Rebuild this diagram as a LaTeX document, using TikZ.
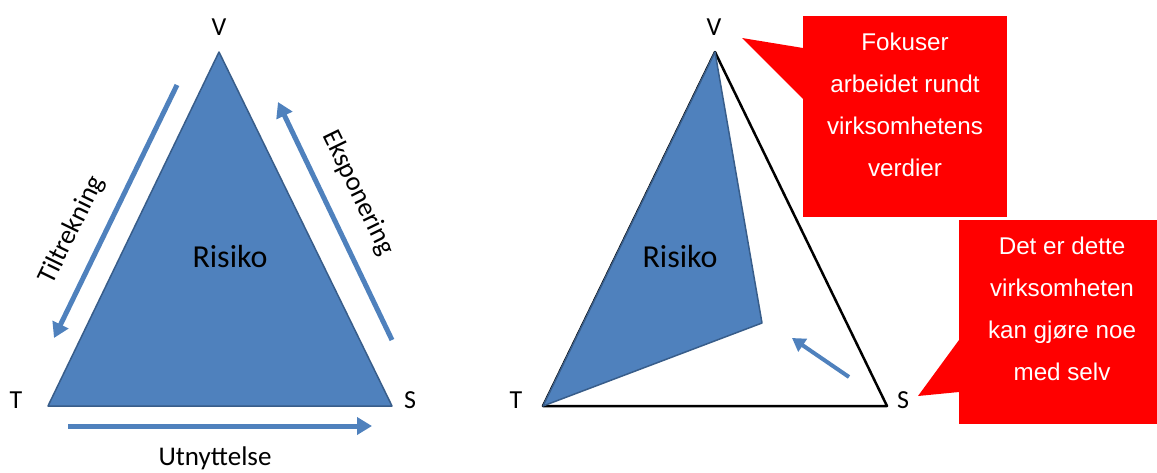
\documentclass[tikz,border=0pt]{standalone}
\usepackage{fontspec}
\setmainfont{Carlito}
\newfontfamily\boblefont{Liberation Sans}
\usepackage{xcolor}
\usetikzlibrary{calc, arrows.meta, positioning}
\definecolor{risikoblaa}{HTML}{4F81BD}
\definecolor{kantblaa}{HTML}{385D8A}
\definecolor{boblerod}{HTML}{FF0000}

\begin{document}
\begin{tikzpicture}[x=1pt, y=-1pt,
    pil/.style={draw=risikoblaa, line width=5pt, -{Triangle[length=15pt, width=17pt]}},
    hjorne/.style={font=\fontsize{26}{30}\selectfont},
    sidetekst/.style={font=\fontsize{27}{30}\selectfont},
    risiko/.style={fill=risikoblaa, draw=kantblaa, line width=1.5pt, line join=round},
    boble/.style={fill=boblerod, inner sep=0pt, outer sep=0pt},
    bobletekst/.style={text=white, align=center, font=\boblefont\fontsize{24.2}{42}\selectfont}]
    \useasboundingbox (0,0) rectangle (1157,472);

    % 1. Venstre trekant
    \coordinate (V1) at (219,52);
    \coordinate (T1) at (48,406);
    \coordinate (S1) at (392,406);
    \draw[risiko] (V1) -- (T1) -- (S1) -- cycle;
    \node[font=\fontsize{32}{36}\selectfont] (risiko1) at (230,257) {Risiko};
    \node[hjorne] (lV1) at (219,27) {V};
    \node[hjorne] (lT1) at (16,400) {T};
    \node[hjorne] (lS1) at (410,400) {S};

    % 2. Piler langs sidene
    \coordinate (tA) at (177,85);
    \coordinate (tB) at (54,338);
    \coordinate (eA) at (392,340);
    \coordinate (eB) at (278,102);
    \coordinate (uA) at (68,426);
    \coordinate (uB) at (372,426);
    \draw[pil] (tA) -- (tB);
    \draw[pil] (eA) -- (eB);
    \draw[pil] (uA) -- (uB);
    \node[sidetekst, rotate=64] (tiltrekning) at (72,230) {Tiltrekning};
    \node[sidetekst, rotate=-64] (eksponering) at (358,193) {Eksponering};
    \node[sidetekst] (utnyttelse) at (215,458) {Utnyttelse};

    % 3. Høyre trekant
    \coordinate (V2) at (715,52);
    \coordinate (T2) at (543,406);
    \coordinate (S2) at (887,406);
    \coordinate (I2) at (762,323);
    \draw[line width=2.5pt, line join=round] (V2) -- (T2) -- (S2) -- cycle;
    \draw[risiko] (V2) -- (T2) -- (I2) -- cycle;
    \node[font=\fontsize{32}{36}\selectfont] (risiko2) at (680,257) {Risiko};
    \node[hjorne] (lV2) at (714,27) {V};
    \node[hjorne] (lT2) at (516,400) {T};
    \node[hjorne] (lS2) at (903,400) {S};
    \coordinate (mA) at (849,377);
    \coordinate (mB) at (792,338);
    \draw[pil, line width=4pt, -{Triangle[length=13pt, width=15pt]}] (mA) -- (mB);

    % 4. Snakkebobler
    \node[boble, minimum width=204pt, minimum height=201pt] (fokus) at (905,116.5) {};
    \coordinate (spiss1) at (742,38);
    \fill[boblerod] ($(fokus.north west)+(0,32)$) -- (spiss1) -- ($(fokus.north west)+(0,83)$) -- cycle;
    \node[bobletekst] (fokustekst) at (905,105) {Fokuser\\arbeidet rundt\\virksomhetens\\verdier};

    \node[boble, minimum width=206pt, minimum height=204pt] (selv) at (1062,322) {};
    \coordinate (spiss2) at (918,396);
    \fill[boblerod] ($(selv.north west)+(0,120)$) -- (spiss2) -- ($(selv.north west)+(0,172)$) -- cycle;
    \node[bobletekst] (selvtekst) at (1062,309) {Det er dette\\virksomheten\\kan gjøre noe\\med selv};
\end{tikzpicture}
\end{document}
